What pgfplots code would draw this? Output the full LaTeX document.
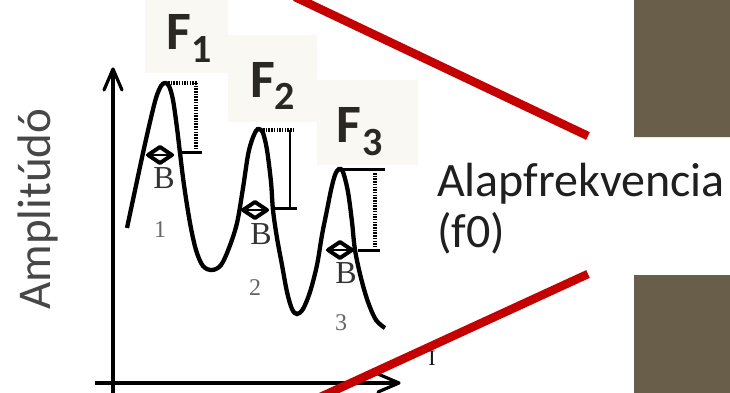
\documentclass[border=0pt]{standalone}
\usepackage{fontspec}
\setmainfont{Carlito}
\newfontfamily\serif{Liberation Serif}
\usepackage{pgfplots}
\pgfplotsset{compat=1.18}
\definecolor{boxbg}{HTML}{FAF8F2}
\definecolor{slab}{HTML}{695E4A}
\definecolor{redline}{HTML}{C40000}
\definecolor{ink}{HTML}{2B2723}

\begin{document}
\begin{tikzpicture}
\begin{axis}[
  width=730pt,height=393pt,scale only axis,
  xmin=0,xmax=730,ymin=0,ymax=393,
  y dir=reverse,
  hide axis,clip=true,
  every axis plot/.append style={mark=none}
]
% page and boxes
\addplot[fill=white,draw=none] coordinates {(0,0) (730,0) (730,393) (0,393) (0,0)};
\addplot[fill=boxbg,draw=none] coordinates {(145,0) (228,0) (228,73) (145,73) (145,0)};
\addplot[fill=boxbg,draw=none] coordinates {(228,35) (317,35) (317,122) (228,122) (228,35)};
\addplot[fill=boxbg,draw=none] coordinates {(317,80) (418,80) (418,165) (317,165) (317,80)};
\addplot[fill=slab,draw=none] coordinates {(634,0) (730,0) (730,137) (634,137) (634,0)};
\addplot[fill=slab,draw=none] coordinates {(634,275) (730,275) (730,393) (634,393) (634,275)};

% axes
\addplot[black,line width=3.2pt] coordinates {(113,393) (113,69)};
\addplot[black,line width=3.2pt,line join=round,line cap=round] coordinates {(104,90) (113,69) (122,90)};
\addplot[black,line width=3.2pt] coordinates {(95,383) (398,383)};
\addplot[black,line width=3.2pt,line join=round,line cap=round] coordinates {(378,374) (399,383) (378,392)};

% red connectors
\addplot[redline,line width=8.5pt] coordinates {(295,-3) (588,136)};
\addplot[redline,line width=8.5pt] coordinates {(588,274) (316,399)};

% waveform
\addplot[black,line width=4.3pt,smooth,tension=0.55] coordinates {
(127,228) (134,195) (143,153) (150,122) (156,98) (161,86) (165,83)
(169,86) (173,100) (177,128) (180,153) (184,185) (190,223) (196,250)
(203,266) (212,270) (221,265) (229,248) (237,223) (243,188) (248,155)
(252,140) (256,131) (259,129) (263,133) (267,150) (271,182) (273,210)
(277,238) (282,265) (287,292) (292,309) (297,314) (303,309) (310,292)
(317,265) (322,235) (327,210) (331,190) (335,175) (339,169) (343,172)
(348,192) (352,222) (355,250) (361,278) (368,302) (376,320) (385,328)};

% amplitude brackets
\addplot[black,line width=3.5pt,dash pattern=on 1.5pt off 1.2pt] coordinates {(168,83) (197,83)};
\addplot[black,line width=3.5pt,dash pattern=on 1.5pt off 1.2pt] coordinates {(196,83) (196,152)};
\addplot[black,line width=3pt] coordinates {(182,152) (202,152)};
\addplot[black,line width=3.5pt,dash pattern=on 1.5pt off 1.2pt] coordinates {(263,130) (293,130)};
\addplot[black,line width=2.2pt] coordinates {(290,130) (290,208)};
\addplot[black,line width=3pt] coordinates {(273,208) (297,208)};
\addplot[black,line width=3pt] coordinates {(340,169) (385,169)};
\addplot[black,line width=3.5pt,dash pattern=on 1.5pt off 1.2pt] coordinates {(375,173) (375,250)};
\addplot[black,line width=3pt] coordinates {(358,250) (380,250)};

% B diamonds
\addplot[black,line width=4pt,fill=white,line join=round] coordinates {(148,155) (160,147) (172,155) (160,163) (148,155)};
\addplot[black,line width=2.5pt] coordinates {(146,155) (174,155)};
\addplot[black,line width=4pt,fill=white,line join=round] coordinates {(243,210) (255,202) (267,210) (255,218) (243,210)};
\addplot[black,line width=2.5pt] coordinates {(241,210) (269,210)};
\addplot[black,line width=4pt,fill=white,line join=round] coordinates {(328,250) (340,242) (352,250) (340,258) (328,250)};
\addplot[black,line width=2.5pt] coordinates {(326,250) (354,250)};

% texts
\node[anchor=base,text=black!80,font=\serif\fontsize{32}{32}\selectfont,inner sep=0pt] at (axis cs:164,188) {B};
\node[anchor=base,text=black!80,font=\serif\fontsize{32}{32}\selectfont,inner sep=0pt] at (axis cs:261,244) {B};
\node[anchor=base,text=black!80,font=\serif\fontsize{32}{32}\selectfont,inner sep=0pt] at (axis cs:346,283) {B};
\node[anchor=base,text=black!60,font=\serif\fontsize{24}{24}\selectfont,inner sep=0pt] at (axis cs:160,237) {1};
\node[anchor=base,text=black!60,font=\serif\fontsize{24}{24}\selectfont,inner sep=0pt] at (axis cs:255,295) {2};
\node[anchor=base,text=black!60,font=\serif\fontsize{24}{24}\selectfont,inner sep=0pt] at (axis cs:341,330) {3};
\node[anchor=base,text=black!90,font=\serif\fontsize{22}{22}\selectfont,inner sep=0pt] at (axis cs:432,365) {I};

\node[anchor=base west,text=ink,font=\bfseries\fontsize{54}{54}\selectfont,inner sep=0pt] at (axis cs:166,50) {F};
\node[anchor=base west,text=ink,font=\bfseries\fontsize{40}{40}\selectfont,inner sep=0pt] at (axis cs:191,63) {1};
\node[anchor=base west,text=ink,font=\bfseries\fontsize{54}{54}\selectfont,inner sep=0pt] at (axis cs:250,98) {F};
\node[anchor=base west,text=ink,font=\bfseries\fontsize{40}{40}\selectfont,inner sep=0pt] at (axis cs:274,110) {2};
\node[anchor=base west,text=ink,font=\bfseries\fontsize{54}{54}\selectfont,inner sep=0pt] at (axis cs:336,142) {F};
\node[anchor=base west,text=ink,font=\bfseries\fontsize{40}{40}\selectfont,inner sep=0pt] at (axis cs:362,155) {3};

\node[anchor=base west,text=black!88,font=\fontsize{48}{48}\selectfont,inner sep=0pt] at (axis cs:437,196) {Alapfrekvencia};
\node[anchor=base west,text=black!88,font=\fontsize{48}{48}\selectfont,inner sep=0pt] at (axis cs:437,247) {(f0)};
\node[anchor=base,rotate=90,text=black!72,font=\fontsize{47}{47}\selectfont,inner sep=0pt] at (axis cs:50,209) {Amplitúdó};
\end{axis}
\end{tikzpicture}
\end{document}
